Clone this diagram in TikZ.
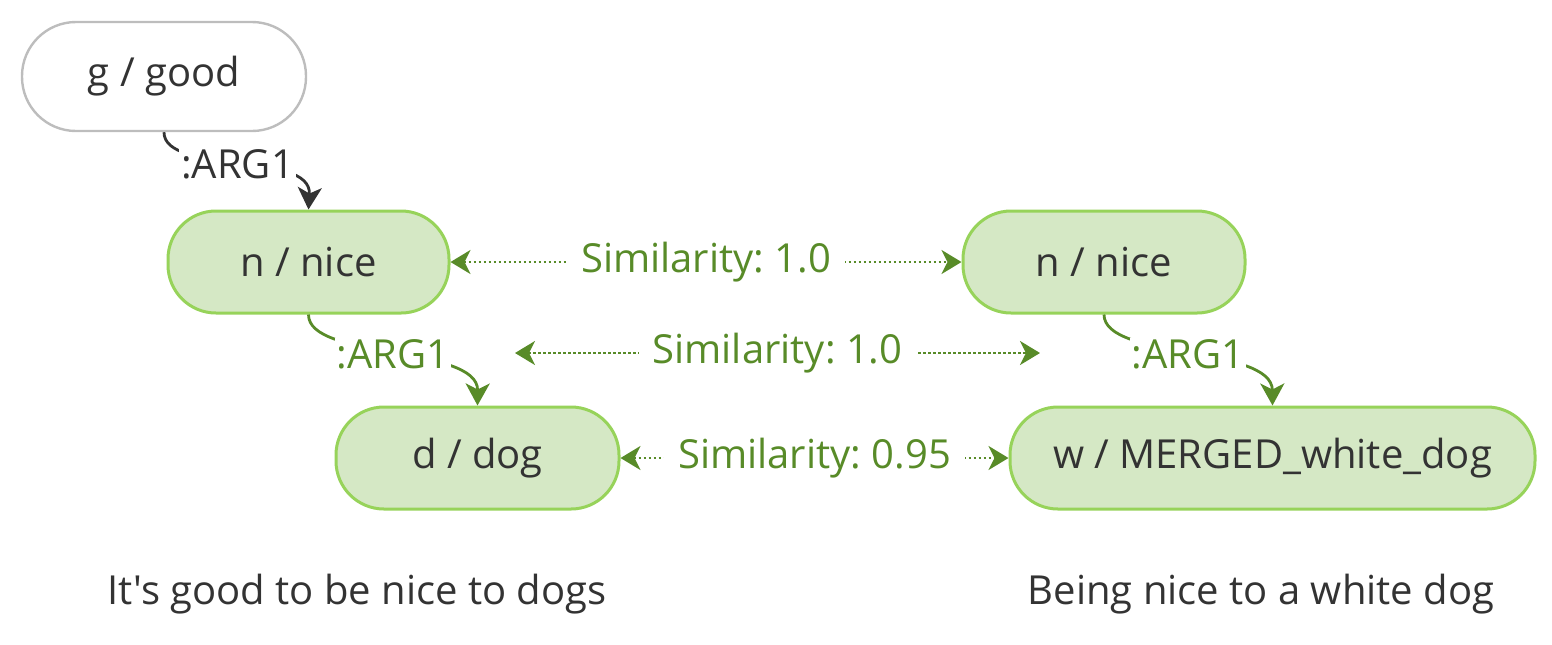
\documentclass[tikz,border=0pt]{standalone}
\usepackage{fontspec}
\setmainfont{Open Sans}[Ligatures=TeXOff]
\usepackage{tikz}
\usetikzlibrary{arrows.meta, positioning}
\definecolor{txtgray}{HTML}{333333}
\definecolor{boxgray}{HTML}{BDBDBD}
\definecolor{boxfill}{HTML}{D5E8C5}
\definecolor{boxline}{HTML}{97D35A}
\definecolor{simgreen}{HTML}{588B28}
\frenchspacing

\begin{document}
\begin{tikzpicture}[x=0.5pt, y=-0.5pt, font=\fontsize{20}{24}\selectfont, text=txtgray,
  concept/.style={draw=boxline, fill=boxfill, line width=1.5pt, rounded corners=24pt, minimum height=51pt},
  topconcept/.style={draw=boxgray, fill=white, line width=1.2pt, rounded corners=27pt, minimum height=54.5pt, minimum width=142pt},
  argline/.style={line width=1.4pt, -{Stealth[length=11pt, width=12pt, inset=3pt]}},
  arglabel/.style={fill=white, inner sep=1pt},
  simline/.style={simgreen, line width=1.4pt, dash pattern=on 1.2pt off 1.3pt, {Stealth[length=10pt, width=12pt, inset=3pt]}-{Stealth[length=10pt, width=12pt, inset=3pt]}},
  simlabel/.style={fill=white, text=simgreen, inner sep=7pt}]
\useasboundingbox (0,0) rectangle (1552,644);

\node[topconcept] (good) at (164,76.5) {g / good};
\node[concept, minimum width=140.5pt] (niceA) at (308.5,262) {n / nice};
\node[concept, minimum width=141pt] (niceB) at (1104,262) {n / nice};
\node[concept, minimum width=141.5pt] (dog) at (477.5,458) {d / dog};
\node[concept, minimum width=262.5pt] (white) at (1272.5,458) {w / MERGED\_white\_dog};

\draw[argline, txtgray] (good.south) .. controls (164,175) and (312,150) .. (niceA.north)
  node[arglabel, pos=.5]{:ARG1};
\draw[argline, simgreen] (niceA.south) .. controls (308,360) and (478,345) .. (dog.north)
  node[arglabel, pos=.5, text=simgreen]{:ARG1};
\draw[argline, simgreen] (niceB.south) .. controls (1104,360) and (1272,345) .. (white.north)
  node[arglabel, pos=.5, text=simgreen]{:ARG1};

\coordinate (midA) at (515,353);
\coordinate (midB) at (1040,353);
\draw[simline] (niceA.east)--(niceB.west) node[simlabel, midway]{Similarity: 1.0};
\draw[simline] (midA)--(midB) node[simlabel, midway]{Similarity: 1.0};
\draw[simline] (dog.east)--(white.west) node[simlabel, midway]{Similarity: 0.95};

\node (sentA) at (357,594) {It's good to be nice to dogs};
\node (sentB) at (1261,594) {Being nice to a white dog};

\end{tikzpicture}
\end{document}
